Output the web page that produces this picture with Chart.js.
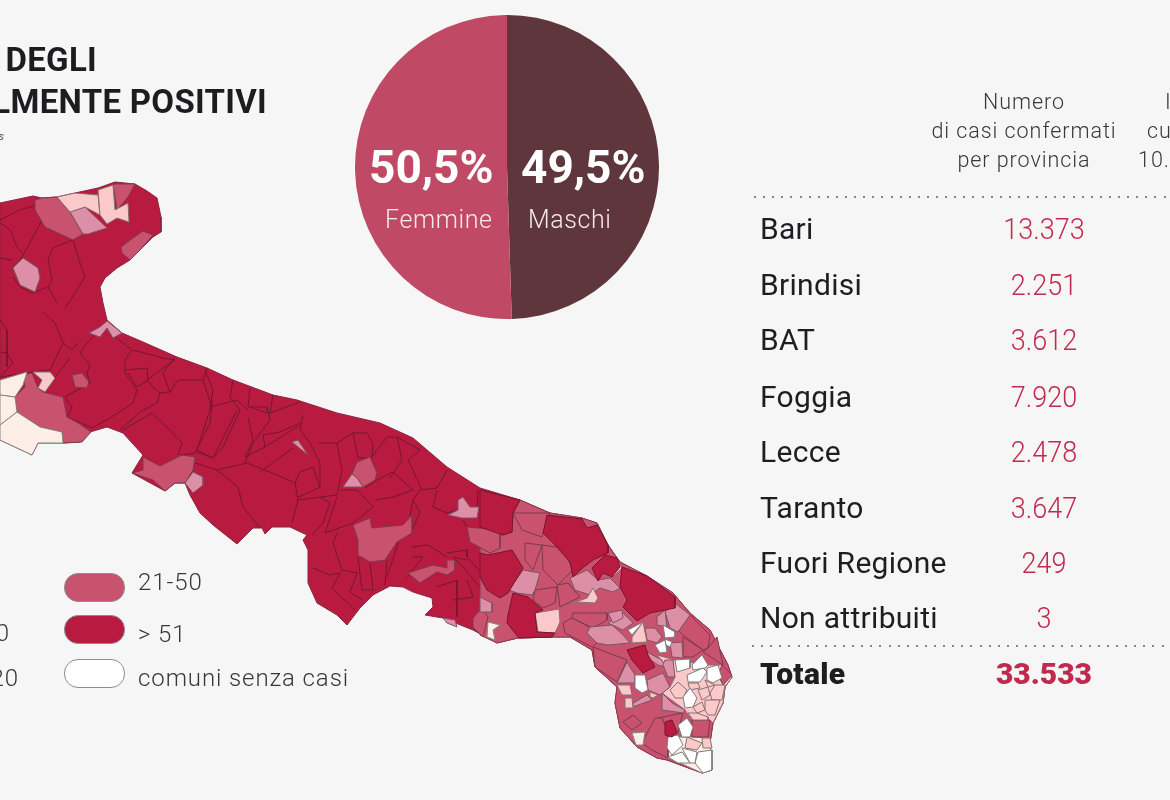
<!DOCTYPE html>
<html lang="it"><head><meta charset="utf-8">
<script src="https://cdn.jsdelivr.net/npm/chart.js@4"></script>
<style>
html,body{margin:0;padding:0;width:1170px;height:800px;overflow:hidden;background:#f6f6f6;font-family:Roboto,sans-serif}
#page{position:relative;width:1170px;height:800px;overflow:hidden}
#mapWrap{position:absolute;left:0;top:0;width:1170px;height:800px}
#pieWrap{position:absolute;left:355px;top:15px;width:304px;height:304px}
.t{position:absolute;white-space:nowrap;line-height:1}
.ttl{font-weight:700;font-size:33px;color:#1d1d1f;letter-spacing:.3px}
.rowL{left:760px;font-size:30px;font-weight:400;color:#1e1e20;letter-spacing:.3px}
.rowV{width:200px;left:944px;text-align:center;font-size:30px;font-weight:300;color:#c2294f;transform:scaleX(.9)}
.hdr{font-size:21.5px;font-weight:300;color:#38383a;text-align:center;width:240px;left:904px;letter-spacing:.95px}
.hdr2{font-size:21.5px;font-weight:300;color:#38383a;letter-spacing:.95px}
.leg{font-size:24px;font-weight:300;color:#38383a;letter-spacing:.9px}
.pill{position:absolute;left:64px;width:59px;height:27px;border-radius:14px;border:1px solid #8d8d8d;box-sizing:content-box}
.dots{position:absolute;height:2px;background-image:repeating-linear-gradient(to right,#858585 0,#858585 2px,transparent 2px,transparent 9.1px)}
.pv{color:#fff;font-weight:700;font-size:46px}
.pl{color:#f6e9ea;font-weight:300;font-size:25px;letter-spacing:.6px}
</style></head>
<body><div id="page">
<div id="mapWrap"><canvas id="map" width="1170" height="800"></canvas></div>
<div id="pieWrap"><canvas id="pie" width="304" height="304"></canvas></div>
<div id="txt"></div>
</div>
<script>
/* Pie */
const genderLabels=["Maschi","Femmine"];
const genderValues=[49.5,50.5];
const genderColors=["#5e363b","#c04a65"];
/* Table */
const provinces=["Bari","Brindisi","BAT","Foggia","Lecce","Taranto","Fuori Regione","Non attribuiti"];
const provinceCases=["13.373","2.251","3.612","7.920","2.478","3.647","249","3"];
const totalLabel="Totale";
const totalCases="33.533";
const headerLines=["Numero","di casi confermati","per provincia"];
const header2Lines=["Incidenza","cumulativa x","10.000 abitanti"];
/* Map regions, on the map's own 1170x800 scales */
const regionOutline=[0,203,33,196,42,198,57,197,75,193,98,188,115,182,135,184,147,191,157,198,161,217,161,232,153,237,143,247,130,260,117,268,105,278,100,287,103,303,107,320,122,333,143,342,177,357,207,368,233,380,273,395,297,400,337,413,380,423,413,438,447,467,480,488,520,500,550,513,582,518,597,523,608,545,620,562,647,576,673,593,690,613,710,630,728,665,732,677,725,687,723,703,713,723,710,743,712,770,702,773,667,760,657,758,637,747,620,728,615,703,617,687,595,667,592,650,570,637,555,637,518,638,497,643,473,630,443,618,425,615,433,607,432,598,413,592,403,587,390,586,373,595,360,608,347,625,337,615,317,603,308,583,308,568,308,550,303,540,307,535,290,527,272,527,265,534,262,528,253,528,237,544,213,525,200,513,190,495,185,483,175,483,165,491,132,473,143,455,123,433,107,427,90,432,80,442,63,443,38,443,32,455,0,440];
const salentoBase=[513,513,520,500,550,513,582,518,597,523,608,545,620,562,647,576,673,593,690,613,710,630,728,665,732,677,725,687,723,703,713,723,710,743,712,770,702,773,667,760,657,758,637,747,620,728,615,703,617,687,595,667,592,650,570,637,555,637,518,638,497,643,480,635,480,530,503,535,512,532];
const eastPaleUnderlay=[657,655,675,660,708,665,722,665,732,677,725,687,723,703,713,723,710,720,692,720,685,710,662,693,670,687,675,677];
const capoUnderlay=[667,757,668,737,692,737,710,738,712,770,702,773];
const over51=[
[543,533,547,515,582,519,587,528,597,525,608,545,608,553,593,560,580,570,573,577,570,562,555,545],
[592,568,605,555,617,558,620,567,612,577,603,573,598,581],
[622,567,647,576,675,597,675,608,650,613,637,621,623,607,627,600,620,587],
[480,490,520,500,513,513,512,532,503,535,480,527],
[480,553,488,555,512,550,523,568,508,593,500,598,487,590,480,577],
[508,615,513,593,528,597,543,610,535,613,537,632,555,633,552,637,519,638,507,623],
[627,650,645,645,648,655,655,667,643,673,632,660],
[665,722,672,720,677,732,672,737,665,735]];
const from21to50=[
[35,200,42,198,57,197,70,212,83,234,73,240,45,227,35,210],
[113,184,135,184,128,197,117,210],
[121,247,133,238,143,231,153,235,142,248,130,260,122,253],
[23,375,32,373,38,388,43,392,63,397,67,417,78,423,91,432,82,442,63,443,62,432,40,427,17,412,15,397,25,387],
[72,375,82,373,89,382,87,388,75,387],
[132,473,143,470,143,457,160,466,182,455,195,457,193,470,185,483,175,483,165,491,153,480],
[353,525,370,518,372,528,403,525,412,515,412,533,397,542,385,560,370,562,358,555,358,540],
[467,527,500,530,500,548,490,553,470,542],
[408,573,433,565,447,568,447,560,455,560,455,570,447,575,437,572,420,583],
[473,618,482,608,488,617,483,637,473,627],
[357,462,370,457,377,473,375,480,363,487,357,478,352,474],
[513,513,550,513,542,537,522,530],
[525,543,542,545,533,570,525,560],
[542,545,563,548,573,570,558,585,543,570],
[535,590,557,587,555,603,543,608,533,600],
[557,585,568,583,580,597,560,607],
[573,613,607,613,607,620,593,628,572,618],
[563,623,572,618,595,630,597,643,592,647,565,633],
[593,647,627,660,617,682,595,667],
[678,630,690,615,710,635,708,648,703,650,683,635],
[683,637,703,650,693,657,683,657],
[708,648,717,637,723,665,703,652],
[722,665,732,675,723,685,718,675],
[692,720,710,720,708,737,692,737],
[658,718,683,713,677,735,668,733],
[642,743,655,718,662,718,668,733,668,758,652,750],
[623,722,633,715,642,723,632,730]];
const from11to20=[
[70,212,85,207,107,228,88,234,83,234],
[13,268,23,258,38,268,40,278,35,292,20,285],
[89,333,100,327,107,321,122,333,113,338,107,328,100,337],
[185,483,193,472,203,477,203,485,193,493],
[343,487,352,474,357,478,363,487],
[292,442,298,440,308,455,298,447],
[458,500,463,497,470,507,479,507,477,518,462,518,448,515,458,510],
[509,590,523,570,540,573,535,590,532,595,517,593],
[570,578,587,570,598,580,610,578,620,588,613,592,600,588,590,595,575,590],
[590,627,612,625,623,635,630,643,608,645,597,643,587,633],
[608,623,623,613,633,623,623,630],
[608,613,622,610,623,618,613,623],
[632,587,635,581,641,597,637,605,632,595],
[665,612,675,603,690,615,678,632,670,628],
[670,643,682,642,683,658,672,657],
[657,617,665,610,667,627,657,625],
[645,628,655,628,662,637,657,643,647,640],
[647,652,662,660,665,667,658,665,648,658],
[665,660,673,660,675,677,668,677,663,665],
[617,683,627,662,635,675,635,683],
[647,680,663,673,670,687,660,695,648,690],
[633,703,647,695,652,700,633,707],
[662,693,672,703,685,710,683,713,662,710],
[480,597,492,603,492,612,480,612],
[447,623,443,618,455,620,457,627]];
const from6to10=[
[57,197,75,193,98,195,100,215,85,207,70,212],
[98,190,113,185,115,210,128,203,129,222,117,218,107,224,100,215],
[33,372,50,372,55,378,45,392,38,388,42,380],
[605,567,617,559,622,568,613,577],
[535,613,559,609,560,622,555,633,538,632],
[567,605,587,598,593,588,598,598,595,603,577,602],
[632,637,643,622,647,642,632,643],
[617,685,630,685,632,695,622,695],
[625,698,632,698,633,708,625,708],
[650,692,658,695,653,698,650,697],
[670,690,678,682,687,690,683,698,675,698],
[688,683,698,683,700,688,690,690],
[698,690,708,687,710,695,702,700],
[705,680,715,685,708,687],
[715,685,725,685,722,700,712,700,710,693],
[693,707,702,702,705,710,697,713],
[705,700,720,700,715,715,708,715,705,710],
[688,713,697,713,708,717,708,720,693,720],
[687,737,702,743,697,750,685,748],
[702,738,710,738,712,748,703,748],
[0,383,7,387,5,395,0,395]];
const from1to5=[
[0,380,27,372,23,385,15,397,0,395],
[0,395,15,397,17,412,0,425],
[0,440,0,425,17,412,40,427,62,432,63,443,38,443,32,455],
[488,622,500,625,493,630,495,640,487,637],
[632,733,645,732,643,745,636,745]];
const noCases=[
[628,630,643,622,632,635],
[663,625,675,632,675,637,665,638],
[655,645,665,640,667,652,660,653],
[665,639,672,642,670,647,666,645],
[675,660,690,659,690,668,677,672],
[692,665,702,655,708,665,705,668,693,670],
[687,675,703,668,707,672,700,682,688,682],
[707,668,718,665,722,678,713,683,707,680],
[635,675,645,675,648,690,642,693,635,688],
[683,697,690,688,697,698,693,707,685,708],
[678,725,687,718,693,727,690,737,682,737],
[668,737,678,735,683,745,672,755,667,748],
[668,757,682,752,690,763,678,763],
[682,748,697,752,695,763,690,763],
[698,752,712,750,712,770,703,773,695,763]];
const innerBorders=[
[0,220,20,210,37,205],[43,218,35,233,27,248,20,260],[0,223,10,230,17,247,22,253],
[48,225,72,240,53,248,48,260,52,280,48,287,57,303],[73,240,80,263,85,277,75,293,65,308],
[0,258,12,260],[13,277,20,287,33,293,47,287],[0,320,7,330,7,367],[43,312,55,323,63,343,72,350,78,343],
[0,377,13,363,7,353,0,352],[63,343,50,370,33,372,0,377],
[102,328,87,343,80,353,90,365,87,373,90,383,65,397],[43,393,70,358],[65,397,72,407,67,417,92,428],
[92,428,110,418,133,403,137,390,125,373,125,360,132,350,115,337],[125,370,147,368,148,380,137,387,128,373],
[133,350,163,358,175,360,170,363,147,380,153,387,160,393,157,403,140,412,120,430],
[175,357,163,373,170,392,178,380,203,380,207,368],[160,393,170,392],[203,380,212,407,210,423,195,453,180,455],
[152,413,170,430,182,443,178,455],[123,430,152,413],[205,370,213,390,210,407,237,400,248,410],
[233,380,230,397,240,410,223,447,213,458,197,452],[250,388,248,407,267,407,270,420,253,443,245,463],
[273,395,270,413,300,402],
[195,463,217,470,238,487,243,507,260,528],[217,470,247,463,277,475,295,483,298,500,292,523],
[295,483,300,472,313,467,320,487,297,498],[298,500,320,497,330,503,323,523,312,535],
[320,487,320,463,310,443,300,430,303,415],[293,448,260,472],[245,457,265,447,300,425],[265,447,263,435,280,432,300,423],
[248,417,253,440,245,457],[213,400,197,450,213,458,237,410],[250,407,267,413,267,407],
[318,443,337,443,342,470,337,495,320,497],[337,443,353,433,367,433,373,443,372,458,358,458,353,433],
[340,490,357,490,373,507,353,523,325,533,337,497],[365,488,377,480,393,472,413,490,393,497,375,500],
[372,457,387,437,397,437,402,460,390,478],[397,437,420,450,408,460,422,490],
[447,470,437,488,420,490,413,500,410,517],[413,500,420,512,410,535,400,537,387,577],
[437,490,433,507,447,513,458,510],[463,520,467,527],[478,490,477,510],[412,547,428,545,447,557],
[412,557,423,557,407,577],[447,553,467,550,467,557,485,577,480,590],[467,560,453,557,463,567,485,593],
[337,533,333,543,342,570,357,573,350,592,362,600],[313,568,330,575,340,573,332,588,355,610],
[358,557,362,590,373,590,370,563],[387,560,385,585],[437,587,457,580,457,617],[453,600,473,597,467,580]];

/* Styles */
const pts=f=>{const o=[];for(let i=0;i<f.length;i+=2)o.push({x:f[i],y:f[i+1]});return o};
const closed=f=>{const o=pts(f);o.push(o[0]);return o};
const poly=(f,bg,line,w)=>({data:closed(f),showLine:true,fill:'shape',backgroundColor:bg,borderColor:line,borderWidth:w,pointRadius:0,tension:0,borderJoinStyle:'round'});
const stroke=(f,line,w)=>({data:pts(f),showLine:true,fill:false,borderColor:line,borderWidth:w,pointRadius:0,tension:0,borderJoinStyle:'round'});
const colDark="#b81a40",colMid="#c9526f",colPink="#dd8fa7",colPale="#fcc9cb",colVery="#fdeee6",colNone="#ffffff";
const layers=[poly(regionOutline,colDark,"#8a2340",1)];
innerBorders.forEach(f=>layers.push(stroke(f,"#76162f",1)));
layers.push(poly(salentoBase,colMid,"#8a3a50",1));
layers.push(poly(eastPaleUnderlay,colPale,"#87706f",1));
layers.push(poly(capoUnderlay,colVery,"#8b8682",1));
from21to50.forEach(f=>layers.push(poly(f,colMid,"#7c3a4d",1)));
from11to20.forEach(f=>layers.push(poly(f,colPink,"#7a5560",1)));
from6to10.forEach(f=>layers.push(poly(f,colPale,"#87706f",1)));
from1to5.forEach(f=>layers.push(poly(f,colVery,"#8b8682",1)));
noCases.forEach(f=>layers.push(poly(f,colNone,"#7d7d7d",1)));
over51.forEach(f=>layers.push(poly(f,colDark,"#76162f",1)));
layers.reverse();
new Chart(document.getElementById('map'),{type:'scatter',data:{datasets:layers},options:{
 responsive:false,animation:false,events:[],layout:{padding:0},
 plugins:{legend:{display:false},tooltip:{enabled:false},filler:{propagate:false}},
 scales:{x:{type:'linear',min:0,max:1170,display:false},y:{type:'linear',min:0,max:800,reverse:true,display:false}}}});
new Chart(document.getElementById('pie'),{type:'pie',data:{labels:genderLabels,datasets:[{data:genderValues,backgroundColor:genderColors,borderWidth:0}]},options:{
 responsive:false,animation:false,events:[],layout:{padding:0},plugins:{legend:{display:false},tooltip:{enabled:false}}}});
/* Text */
const box=document.getElementById('txt');
function put(cls,text,x,y,extra){const d=document.createElement('div');d.className='t '+cls;d.textContent=text;d.style.top=y+'px';if(x!==null)d.style.left=x+'px';if(extra)Object.assign(d.style,extra);box.appendChild(d);return d}
put('ttl','DEGLI',null,43,{right:(1170-97)+'px'});
put('ttl','ATTUALMENTE POSITIVI',null,85,{right:(1170-267)+'px'});
put('','s',null,131,{right:(1170-4)+'px',fontSize:'11px',fontStyle:'italic',color:'#555'});
const fmt=v=>v.toFixed(1).replace('.',',')+'%';
put('pv',fmt(genderValues[1]),369,144);
put('pv',fmt(genderValues[0]),521,144);
put('pl',genderLabels[1],385,207);
put('pl',genderLabels[0],528,207);
headerLines.forEach((s,i)=>put('hdr',s,null,91+i*29));
put('hdr2',header2Lines[0],1165,91);put('hdr2',header2Lines[1],1147,120);put('hdr2',header2Lines[2],1138,149);
const rowY=[229,285,340,397,452,508,563,618];
provinces.forEach((p,i)=>{put('rowL',p,null,rowY[i]-15);put('rowV',provinceCases[i],null,rowY[i]-15)});
put('rowL',totalLabel,null,659,{fontWeight:900});
put('rowV',totalCases,null,659,{fontWeight:900,color:'#c2294f',transform:'none'});
[[754,196],[752,645]].forEach(([x,y])=>{const d=document.createElement('div');d.className='dots';d.style.left=x+'px';d.style.top=y+'px';d.style.width=(1170-x)+'px';box.appendChild(d)});
[[573,colMid],[615,colDark],[659,colNone]].forEach(([y,c])=>{const d=document.createElement('div');d.className='pill';d.style.top=y+'px';d.style.background=c;box.appendChild(d)});
put('leg','21-50',138,570);put('leg','> 51',138,622);put('leg','comuni senza casi',138,666);
put('leg','6-10',null,621,{right:(1170-10)+'px'});put('leg','11-20',null,666,{right:(1170-19)+'px'});
</script>
</body></html>
